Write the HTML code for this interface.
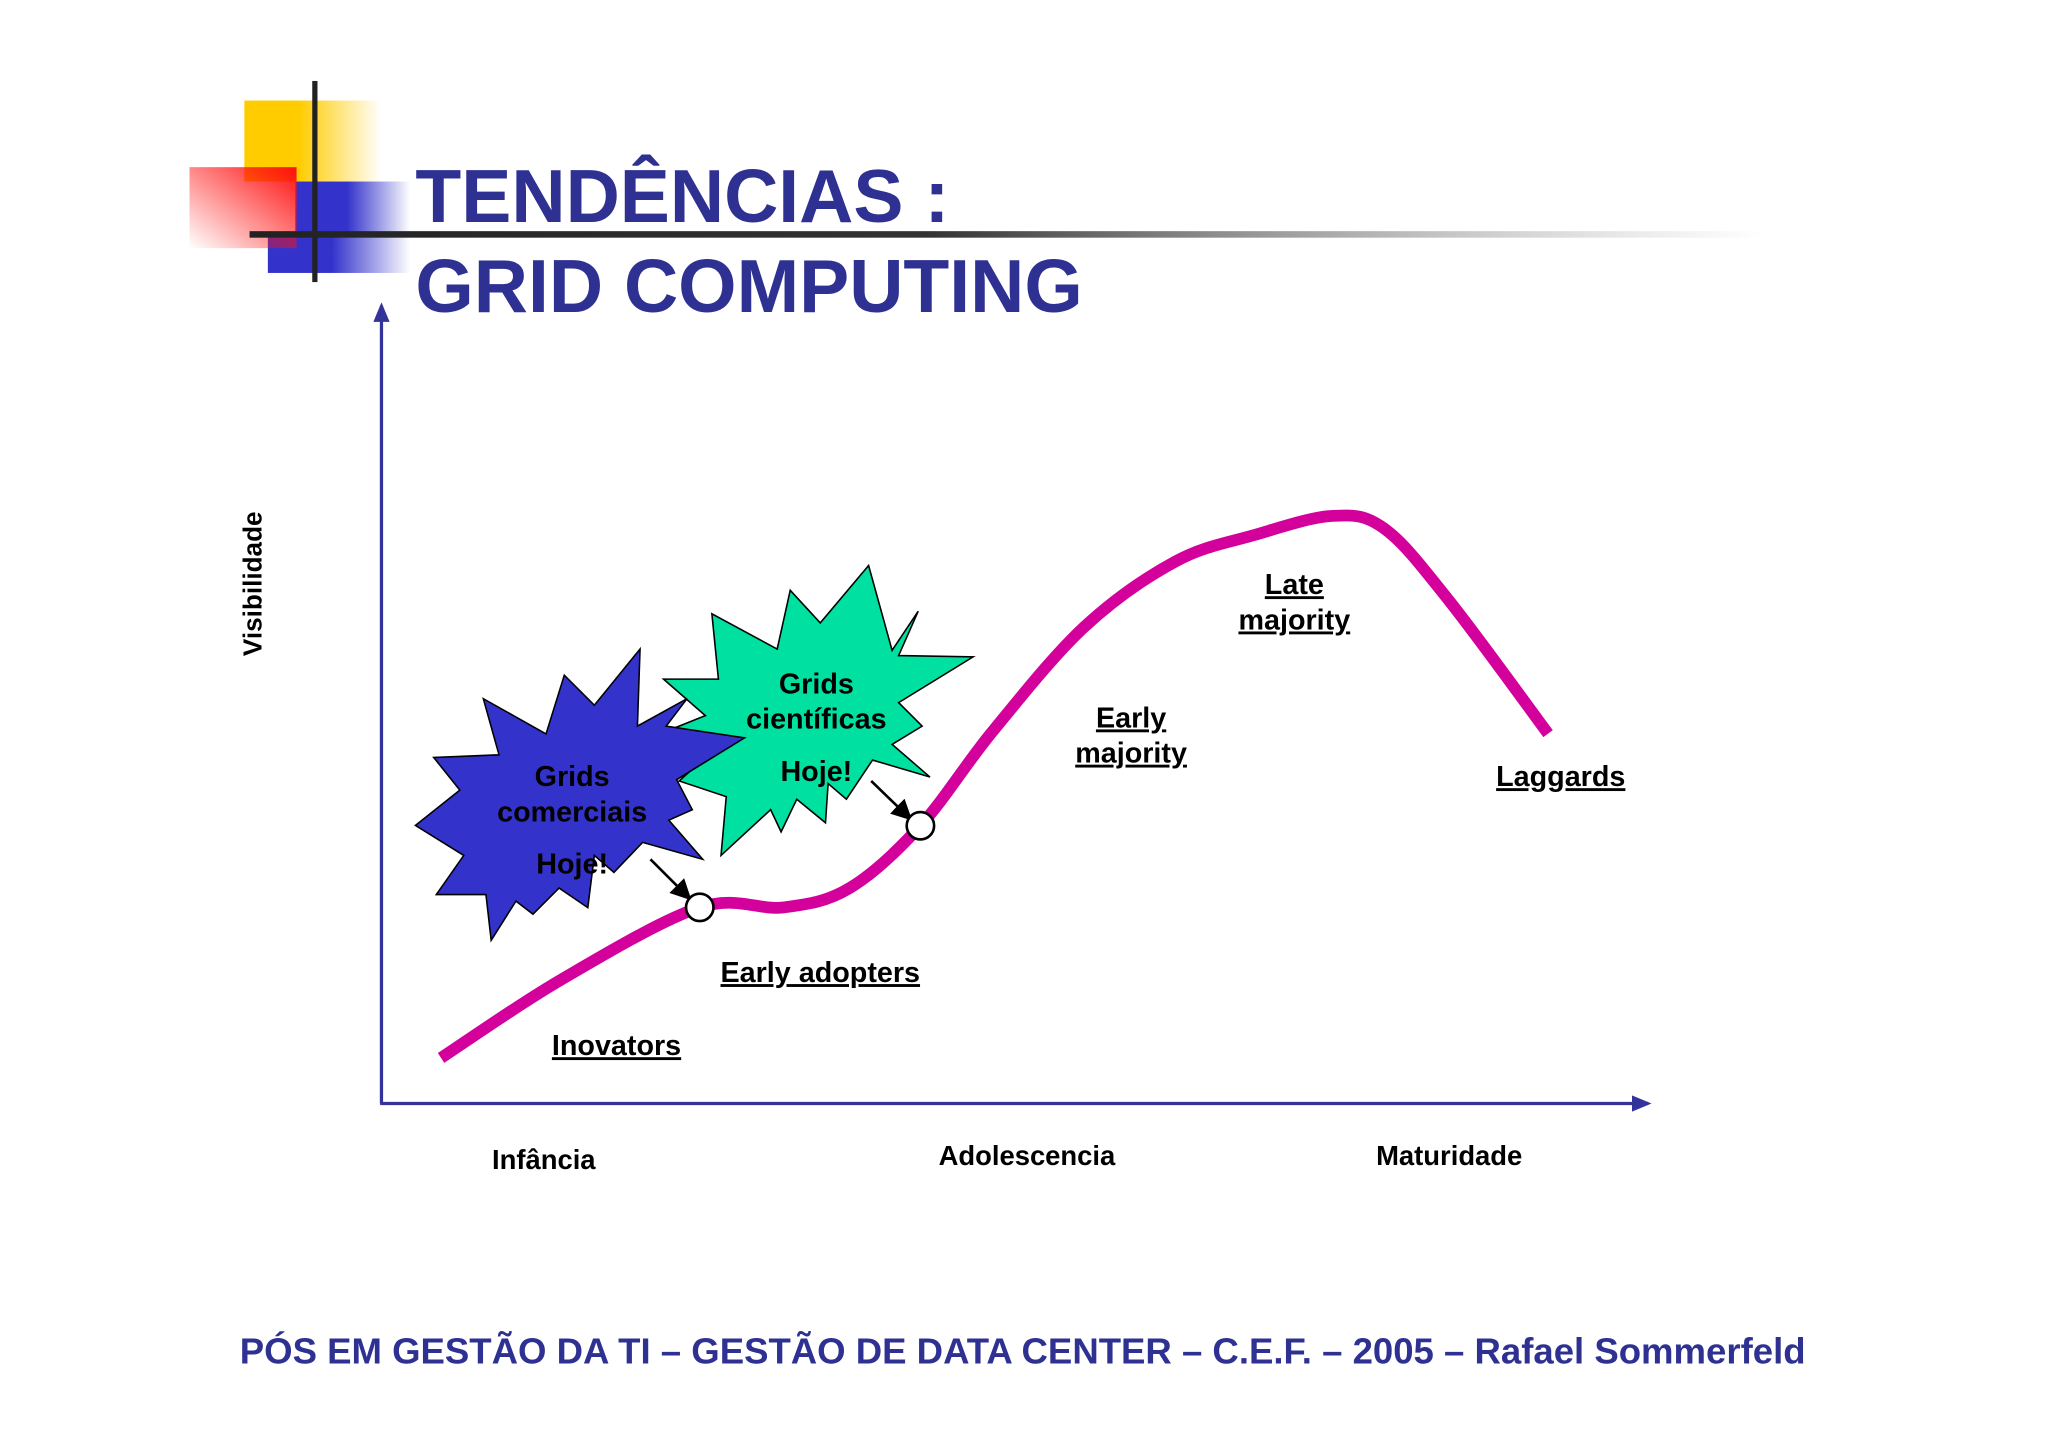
<!DOCTYPE html>
<html><head><meta charset="utf-8"><style>
html,body{margin:0;padding:0;background:#fff;}
svg{display:block;}
text{font-family:"Liberation Sans",Arial,sans-serif;font-weight:bold;}
</style></head><body>
<svg id="chart" width="2048" height="1447" viewBox="0 0 1568 1108" xmlns="http://www.w3.org/2000/svg">
<defs>
<linearGradient id="gy" x1="0" x2="1" y1="0" y2="0"><stop offset="0.4" stop-color="#ffcc00"/><stop offset="1" stop-color="#ffcc00" stop-opacity="0"/></linearGradient>
<linearGradient id="gb" x1="0" x2="1" y1="0" y2="0"><stop offset="0.45" stop-color="#3333cc"/><stop offset="1" stop-color="#3333cc" stop-opacity="0"/></linearGradient>
<linearGradient id="gr" x1="1" x2="0" y1="0" y2="1"><stop offset="0" stop-color="#ff1010"/><stop offset="1" stop-color="#ff1010" stop-opacity="0"/></linearGradient>
<linearGradient id="gl" x1="0" x2="1" y1="0" y2="0"><stop offset="0" stop-color="#222"/><stop offset="0.45" stop-color="#333"/><stop offset="1" stop-color="#888" stop-opacity="0"/></linearGradient>
<marker id="ah" markerWidth="8" markerHeight="8" refX="7" refY="4" orient="auto"><path d="M0,0 L8,4 L0,8 z" fill="#000"/></marker>
<marker id="axh" markerWidth="6" markerHeight="5" refX="5" refY="2.5" orient="auto"><path d="M0,0 L6,2.5 L0,5 z" fill="#333399"/></marker>
</defs>
<g>
<rect x="187" y="77" width="105" height="62" fill="url(#gy)"/>
<rect x="226" y="139" width="88" height="40" fill="url(#gb)"/>
<rect x="205" y="179" width="109" height="30" fill="url(#gb)"/>
<rect x="145" y="128" width="82" height="62" fill="url(#gr)"/>
<rect x="239" y="62" width="4" height="154" fill="#222"/>
<rect x="191" y="177" width="1160" height="5" fill="url(#gl)"/>
</g>
<text x="318" y="170" font-size="57.5" fill="#2e3192">TENDÊNCIAS :</text>
<text x="318" y="239" font-size="57.5" fill="#2e3192">GRID COMPUTING</text>
<line x1="292" y1="845" x2="292" y2="234" stroke="#333399" stroke-width="2.5" marker-end="url(#axh)"/>
<line x1="291" y1="845" x2="1262" y2="845" stroke="#333399" stroke-width="2.5" marker-end="url(#axh)"/>
<text transform="translate(200,447) rotate(-90)" text-anchor="middle" font-size="20" fill="#000">Visibilidade</text>
<g id="xlabels"></g>
<polygon fill="#00e0a0" stroke="#000" stroke-width="1.2" points="665,433 683,498 703,468 688,502 745,503 688,538 706,556 683,570 712,595 668,582 648,612 634,600 632,630 610,612 598,637 590,620 552,655 556,610 520,598 540,580 510,560 540,548 508,520 550,520 545,470 595,497 605,452 628,477"/>
<polygon fill="#3333cc" stroke="#000" stroke-width="1.2" points="490,497 488,556 526,535 510,556 570,565 518,597 530,620 512,628 538,658 492,645 470,668 455,655 450,695 428,680 408,700 395,690 376,720 372,685 334,685 355,655 318,632 352,605 332,580 382,578 370,535 418,562 432,517 455,540"/>
<path id="curve" fill="none" stroke="#d4009c" stroke-width="9" stroke-linecap="butt"/>
<line x1="498" y1="658" x2="528" y2="688" stroke="#000" stroke-width="2" marker-end="url(#ah)"/>
<line x1="667" y1="598" x2="697" y2="627" stroke="#000" stroke-width="2" marker-end="url(#ah)"/>
<g id="markers"></g>
<g font-size="22" fill="#000" text-anchor="middle">
<text x="438" y="602">Grids</text>
<text x="438" y="629">comerciais</text>
<text x="438" y="669">Hoje!</text>
<text x="625" y="531">Grids</text>
<text x="625" y="558">científicas</text>
<text x="625" y="598">Hoje!</text>
<g text-decoration="underline">
<text x="991" y="455">Late</text>
<text x="991" y="482">majority</text>
<text x="866" y="557">Early</text>
<text x="866" y="584">majority</text>
<text x="1195" y="602">Laggards</text>
<text x="628" y="752">Early adopters</text>
<text x="472" y="808">Inovators</text>
</g>
</g>
<text x="783" y="1044" text-anchor="middle" font-size="28" fill="#2e3192">PÓS EM GESTÃO DA TI – GESTÃO DE DATA CENTER – C.E.F. – 2005 – Rafael Sommerfeld</text>
</svg>
<script>
const curveX = [4.7, 14.2, 25.1, 31.7, 36.9, 42.5, 48.2, 55.4, 62.6, 68.8, 75.0, 79.1, 84.2, 92.0];
const curveY = [5.7, 15.5, 24.5, 24.5, 26.9, 34.7, 46.5, 59.5, 67.7, 71.0, 73.4, 71.8, 62.8, 46.2];
const markerX = [25.1, 42.5];
const markerY = [24.5, 34.7];
const stageLabels = ["Infância", "Adolescencia", "Maturidade"];
const stageX = [12.8, 50.9, 84.2];
function sx(v){return 292 + v/100*971;}
function sy(v){return 845 - v/100*613;}
const NS="http://www.w3.org/2000/svg";
const P=curveX.map((x,i)=>[sx(x),sy(curveY[i])]);
let d="M"+P[0][0]+","+P[0][1];
for(let i=0;i<P.length-1;i++){
  const p0=P[Math.max(0,i-1)],p1=P[i],p2=P[i+1],p3=P[Math.min(P.length-1,i+2)];
  const c1=[p1[0]+(p2[0]-p0[0])/6,p1[1]+(p2[1]-p0[1])/6];
  const c2=[p2[0]-(p3[0]-p1[0])/6,p2[1]-(p3[1]-p1[1])/6];
  d+=" C"+c1[0]+","+c1[1]+" "+c2[0]+","+c2[1]+" "+p2[0]+","+p2[1];
}
document.getElementById('curve').setAttribute('d',d);
const mg=document.getElementById('markers');
markerX.forEach((x,i)=>{
  const c=document.createElementNS(NS,'circle');
  
  
  c.setAttribute('cx',sx(x));c.setAttribute('cy',sy(markerY[i]));c.setAttribute('r',10.5);
  c.setAttribute('fill','#fff');c.setAttribute('stroke','#000');c.setAttribute('stroke-width','2');
  mg.appendChild(c);
});
const xg=document.getElementById('xlabels');
stageLabels.forEach((s,i)=>{
  const t=document.createElementNS(NS,'text');
  
  
  t.setAttribute('x',sx(stageX[i]));t.setAttribute('y',i===0?895:892);
  t.setAttribute('text-anchor','middle');t.setAttribute('font-size','21');
  t.textContent=s;xg.appendChild(t);
});
</script>
</body></html>
